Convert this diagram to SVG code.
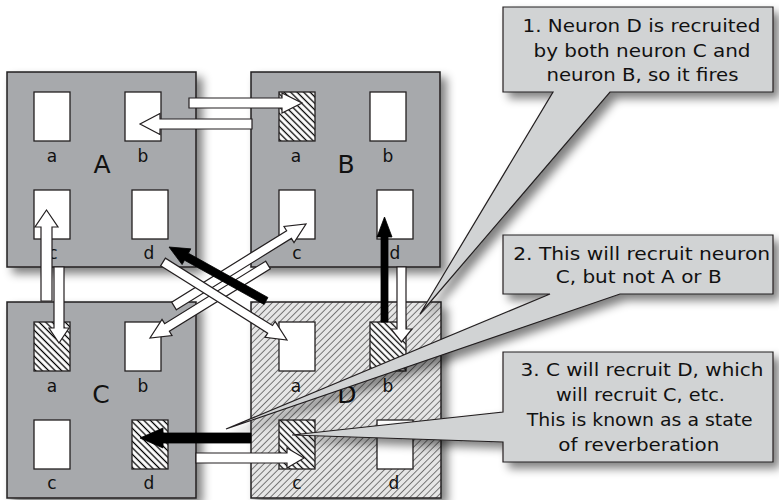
<svg xmlns="http://www.w3.org/2000/svg" width="779" height="500" viewBox="0 0 779 500">
<defs>
<filter id="sh" x="-15%" y="-15%" width="140%" height="140%">
<feGaussianBlur in="SourceAlpha" stdDeviation="5"/>
<feOffset dx="6" dy="6"/>
<feComponentTransfer><feFuncA type="linear" slope="0.5"/></feComponentTransfer>
<feMerge><feMergeNode/><feMergeNode in="SourceGraphic"/></feMerge>
</filter>
<pattern id="dense" width="4.6" height="4.6" patternUnits="userSpaceOnUse" patternTransform="rotate(-45)">
<rect width="4.6" height="4.6" fill="#fff"/>
<line x1="2.3" y1="0" x2="2.3" y2="4.6" stroke="#000" stroke-width="1.3"/>
</pattern>
<pattern id="light" width="4.7" height="4.7" patternUnits="userSpaceOnUse" patternTransform="rotate(45)">
<rect width="4.7" height="4.7" fill="#e6e6e6"/>
<line x1="2.35" y1="0" x2="2.35" y2="4.7" stroke="#6a6a6a" stroke-width="0.9"/>
</pattern>
</defs>
<style>
.panel{fill:#a7a9ac;stroke:#231f20;stroke-width:1.5;filter:url(#sh)}
.panelD{fill:url(#light);stroke:#231f20;stroke-width:1.5;filter:url(#sh)}
.cell{fill:#fff;stroke:#231f20;stroke-width:1.3}
.hcell{fill:url(#dense);stroke:#231f20;stroke-width:1.3}
.lbl{font-family:"DejaVu Sans","Liberation Sans",sans-serif;font-size:17px;fill:#111;text-anchor:middle}
.big{font-family:"DejaVu Sans","Liberation Sans",sans-serif;font-size:25px;fill:#111;text-anchor:middle}
.wa{fill:#fff;stroke:#231f20;stroke-width:1.2;stroke-linejoin:miter}
.ba{fill:#000;stroke:#000;stroke-width:0.8}
.co{fill:#d1d3d4;stroke:#231f20;stroke-width:1.2;filter:url(#sh)}
.ct{font-family:"DejaVu Sans","Liberation Sans",sans-serif;font-size:18px;fill:#111;text-anchor:middle}
</style>
<rect width="779" height="500" fill="#fff"/>

<g id="neuronA">
<rect class="panel" x="7" y="72" width="189" height="195"/>
<rect class="cell" x="34" y="92" width="36" height="49"/>
<rect class="cell" x="125" y="92" width="36" height="49"/>
<rect class="cell" x="34" y="190" width="36" height="49"/>
<rect class="cell" x="132" y="190" width="36" height="49"/>
<text class="lbl" x="52" y="162">a</text>
<text class="lbl" x="143" y="162">b</text>
<text class="lbl" x="53" y="259">c</text>
<text class="lbl" x="149" y="259">d</text>
<text class="big" x="102" y="173">A</text>
</g>

<g id="neuronB">
<rect class="panel" x="251" y="72" width="189" height="195"/>
<rect class="hcell" x="279" y="92" width="36" height="49"/>
<rect class="cell" x="370" y="92" width="36" height="49"/>
<rect class="cell" x="279" y="190" width="36" height="49"/>
<rect class="cell" x="377" y="190" width="36" height="49"/>
<text class="lbl" x="296" y="162">a</text>
<text class="lbl" x="388" y="162">b</text>
<text class="lbl" x="297" y="259">c</text>
<text class="lbl" x="395" y="259">d</text>
<text class="big" x="346" y="173">B</text>
</g>

<g id="neuronC">
<rect class="panel" x="7" y="302" width="189" height="196"/>
<rect class="hcell" x="34" y="322" width="36" height="49"/>
<rect class="cell" x="125" y="322" width="36" height="49"/>
<rect class="cell" x="34" y="420" width="36" height="49"/>
<rect class="hcell" x="132" y="420" width="36" height="49"/>
<text class="lbl" x="52" y="392">a</text>
<text class="lbl" x="143" y="392">b</text>
<text class="lbl" x="52" y="489">c</text>
<text class="lbl" x="149" y="489">d</text>
<text class="big" x="101" y="403">C</text>
</g>

<g id="neuronD">
<rect class="panelD" x="251" y="302" width="190" height="196"/>
<rect class="cell" x="279" y="322" width="36" height="49"/>
<rect class="hcell" x="370" y="322" width="36" height="49"/>
<rect class="hcell" x="279" y="420" width="36" height="49"/>
<rect class="cell" x="377" y="420" width="36" height="49"/>
<text class="lbl" x="296" y="392">a</text>
<text class="lbl" x="388" y="392">b</text>
<text class="lbl" x="297" y="489">c</text>
<text class="lbl" x="394" y="489">d</text>
<text class="big" x="347" y="403">D</text>
</g>

<g id="connectors">
<polygon class="wa" points="189,98 282,98 282,93 302,103 282,113 282,108 189,108"/>
<polygon class="wa" points="252,119 160,119 160,113.5 140,124 160,134.5 160,129 252,129"/>
<polygon class="wa" points="41,301 41,227 35,227 46.5,210 58,227 52,227 52,301"/>
<polygon class="wa" points="54,267 54,328 49,328 59,343 69,328 64,328 64,267"/>
<polygon class="wa" points="397,267 397,329 391,329 401.5,342 412,329 406,329 406,267"/>
<polygon class="ba" points="381,322 381,237 377,237 384.5,217 392,237 388,237 388,322"/>
<polygon class="wa" points="176.38,309.82 291.39,238.37 294.02,242.62 306,224 284.00,226.48 286.64,230.73 171.63,302.18"/>
<polygon class="wa" points="265.63,261.17 164.64,323.65 162.01,319.40 150,338 172.01,335.56 169.38,331.31 270.37,268.83"/>
<polygon class="wa" points="160.60,265.81 267.67,333.16 265.01,337.39 287,340 275.13,321.31 272.47,325.54 165.40,258.19"/>
<polygon class="ba" points="267.95,297.50 188.43,253.23 190.86,248.87 169,247 182.10,264.60 184.53,260.23 264.05,304.50"/>
<polygon class="ba" points="251,433 163,433 163,428 140,438 163,448 163,443 251,443"/>
<polygon class="wa" points="196,453 287,453 287,448 304,458 287,468 287,463 196,463"/>
</g>

<g id="callout1">
<path class="co" d="M503,7 H773 V92 H610 L420,314 L553,92 H503 Z"/>
<text class="ct" x="641.5" y="32" textLength="238" lengthAdjust="spacingAndGlyphs">1. Neuron D is recruited</text>
<text class="ct" x="642" y="57" textLength="217" lengthAdjust="spacingAndGlyphs">by both neuron C and</text>
<text class="ct" x="642.5" y="81" textLength="192" lengthAdjust="spacingAndGlyphs">neuron B, so it fires</text>
</g>

<g id="callout2">
<path class="co" d="M503,235 H773 V294 H620 L226,429 L550,294 H503 Z"/>
<text class="ct" x="641.7" y="260" textLength="257" lengthAdjust="spacingAndGlyphs">2. This will recruit neuron</text>
<text class="ct" x="638.7" y="283" textLength="166" lengthAdjust="spacingAndGlyphs">C, but not A or B</text>
</g>

<g id="callout3">
<path class="co" d="M503,352 H773 V462 H503 V442 L292,435 L503,412 Z"/>
<text class="ct" x="642" y="376" textLength="243" lengthAdjust="spacingAndGlyphs">3. C will recruit D, which</text>
<text class="ct" x="640.5" y="401" textLength="169" lengthAdjust="spacingAndGlyphs">will recruit C, etc.</text>
<text class="ct" x="639.7" y="426" textLength="226" lengthAdjust="spacingAndGlyphs">This is known as a state</text>
<text class="ct" x="638.8" y="451" textLength="161" lengthAdjust="spacingAndGlyphs">of reverberation</text>
</g>
</svg>
